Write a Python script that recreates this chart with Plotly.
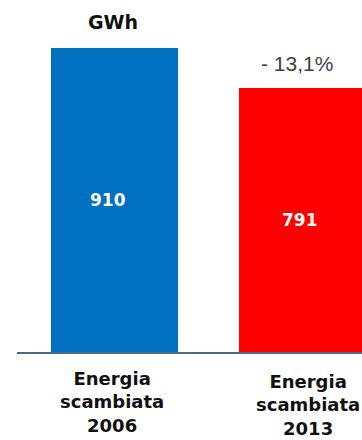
import plotly.graph_objects as go

categories = ["Energia<br>scambiata<br>2006", "Energia<br>scambiata<br>2013"]
values = [910, 791]
colors = ["#0070C0", "#FF0000"]
unit_label = "GWh"
change_label = "- 13,1%"

x_idx = list(range(len(values)))

fig = go.Figure()
fig.add_trace(go.Bar(
    x=x_idx, y=values, width=0.676,
    marker=dict(color=colors, line=dict(width=0)),
    hoverinfo="skip",
))

annotations = []
# values inside bars
val_shifts = [-7, -2.5]
for i, v in enumerate(values):
    annotations.append(dict(
        x=i, y=v / 2, xref="x", yref="y", text=str(v), showarrow=False,
        xshift=val_shifts[i], yshift=0,
        font=dict(family="DejaVu Sans", size=17, color="white", weight="bold"),
    ))
# category labels
cat_xshift = [-3, 5.5]
cat_yshift = [-14, -17]
for i, c in enumerate(categories):
    annotations.append(dict(
        x=i, y=0, xref="x", yref="y", text=c, showarrow=False,
        yanchor="top", xanchor="center",
        xshift=cat_xshift[i], yshift=cat_yshift[i],
        font=dict(family="DejaVu Sans", size=18, color="#111111", weight="bold"),
    ))
# unit label over first bar
annotations.append(dict(
    x=0, y=values[0], xref="x", yref="y", text=unit_label, showarrow=False,
    xshift=-1.5, yshift=26, yanchor="middle",
    font=dict(family="DejaVu Sans", size=19, color="#111111", weight="bold"),
))
# change label over second bar
annotations.append(dict(
    x=1, y=values[1], xref="x", yref="y", text=change_label, showarrow=False,
    xshift=-6, yshift=24, yanchor="middle",
    font=dict(family="Liberation Sans, Arial", size=21, color="#404040"),
))

fig.update_layout(
    width=362, height=440,
    margin=dict(l=17, r=0, t=0, b=88, pad=0),
    paper_bgcolor="white", plot_bgcolor="white",
    showlegend=False,
    annotations=annotations,
    xaxis=dict(range=[-0.519, 1.316], showgrid=False, zeroline=False,
               showticklabels=False, ticks="", showline=True,
               linecolor="#4A6A8C", linewidth=2, fixedrange=True),
    yaxis=dict(range=[0, 1053.7], visible=False, fixedrange=True),
    bargap=0,
)

fig.write_html(
    "out.html",
    config={"displayModeBar": False},
    post_script="document.body.style.margin='0';document.body.style.overflow='hidden';",
)
